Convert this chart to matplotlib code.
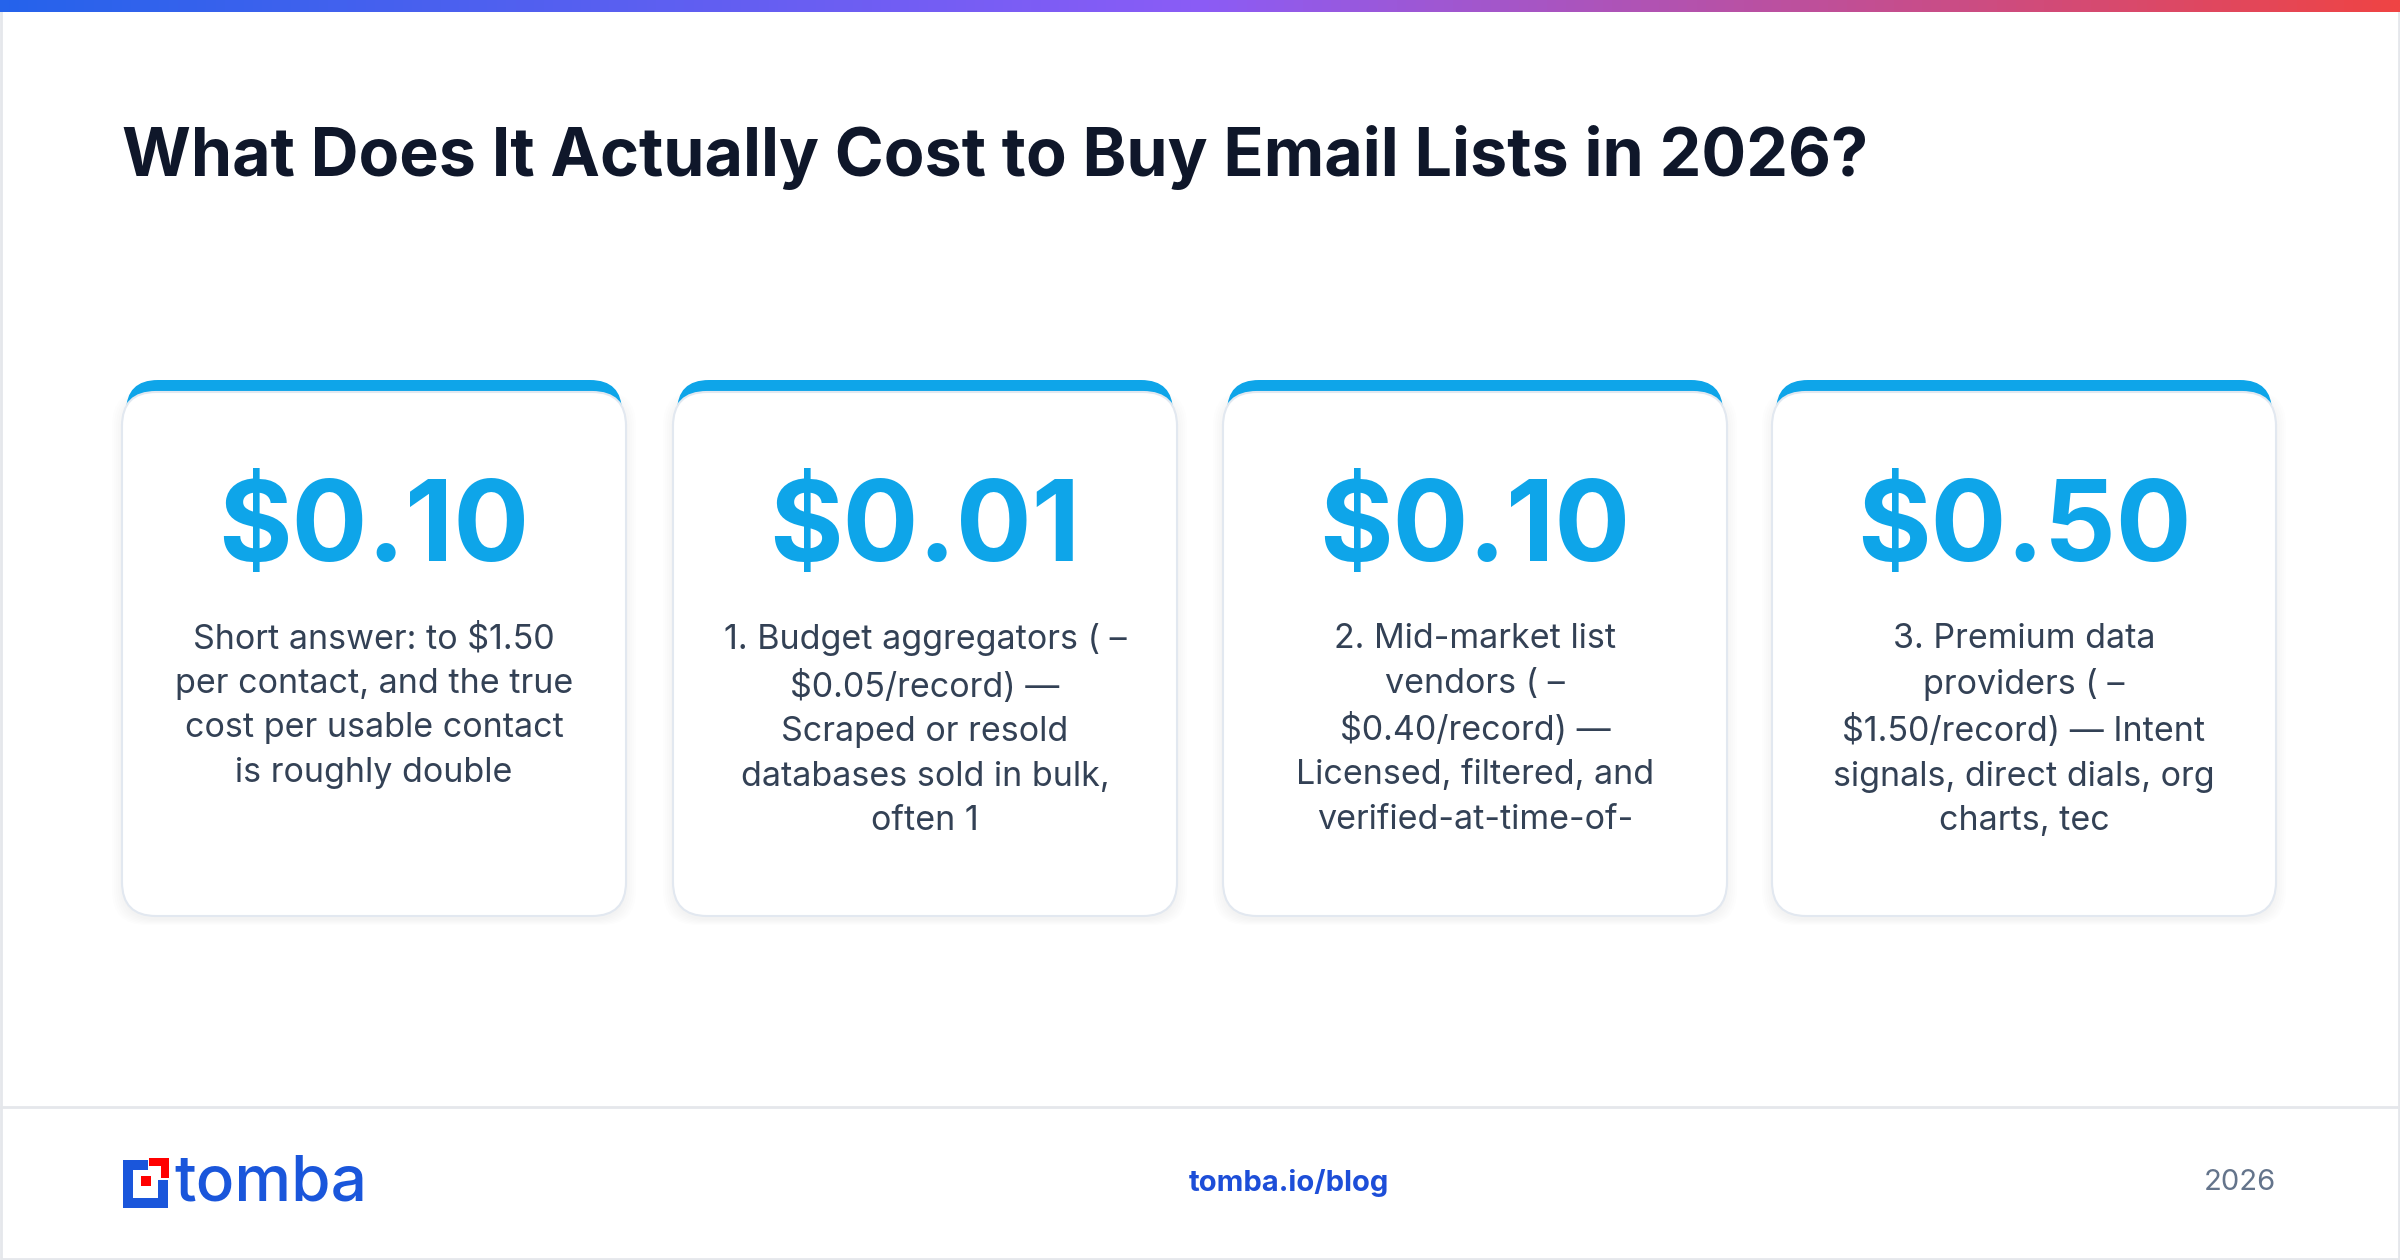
import matplotlib.pyplot as plt
import numpy as np
from matplotlib.patches import FancyBboxPatch, Rectangle
from matplotlib.colors import LinearSegmentedColormap

plt.rcParams['font.family'] = ['Inter', 'DejaVu Sans']

title = "What Does It Actually Cost to Buy Email Lists in 2026?"
prices = ["$0.10", "$0.01", "$0.10", "$0.50"]
descs = [
    "Short answer: to $1.50\nper contact, and the true\ncost per usable contact\nis roughly double",
    "1. Budget aggregators ( –\n$0.05/record) —\nScraped or resold\ndatabases sold in bulk,\noften 1",
    "2. Mid-market list\nvendors ( –\n$0.40/record) —\nLicensed, filtered, and\nverified-at-time-of-",
    "3. Premium data\nproviders ( –\n$1.50/record) — Intent\nsignals, direct dials, org\ncharts, tec",
]
footer_url = "tomba.io/blog"
footer_year = "2026"

W, H = 2400, 1260
fig = plt.figure(figsize=(24, 12.6), dpi=100)
ax = fig.add_axes([0, 0, 1, 1])
ax.set_xlim(0, W)
ax.set_ylim(H, 0)
ax.axis('off')

# outer frame
ax.add_patch(Rectangle((1, 1), W - 2, H - 2, fill=False, ec='#e5e7eb', lw=2))

# top gradient bar
grad = np.linspace(0, 1, 256).reshape(1, -1)
cmap = LinearSegmentedColormap.from_list('g', ['#2563eb', '#8b5cf6', '#ef4444'])
ax.imshow(grad, extent=(0, W, 12, 0), aspect='auto', cmap=cmap, zorder=5)

ax.text(122, 157, title, fontsize=47.8, fontweight='bold', color='#0f172a', va='center', ha='left')

card_x = [122, 673, 1223, 1772]
card_w = 504
top, bottom = 392, 916
for i, x in enumerate(card_x):
    # shadow
    for k in range(6):
        ax.add_patch(FancyBboxPatch((x - k * 2, top - k + 4), card_w + k * 4, bottom - top + k * 2,
                                    boxstyle="round,pad=0,rounding_size=34", fc='#0f172a',
                                    alpha=0.008, ec='none', zorder=1))
    ax.add_patch(FancyBboxPatch((x + 4, top - 12), card_w - 8, 120,
                                boxstyle="round,pad=0,rounding_size=32", fc='#0ea5e9', ec='none', zorder=2))
    ax.add_patch(FancyBboxPatch((x, top), card_w, bottom - top,
                                boxstyle="round,pad=0,rounding_size=34", fc='white', ec='#e2e8f0',
                                lw=1.5, zorder=3))
    cx = x + card_w / 2
    ax.text(cx, 532, prices[i], fontsize=81, fontweight='bold', color='#0ea5e9',
            ha='center', va='center', zorder=4)
    ax.text(cx, 623, descs[i], fontsize=24.5, color='#334155', ha='center', va='top',
            linespacing=1.5, zorder=4)

# footer
ax.plot([0, W], [1107, 1107], color='#e5e7eb', lw=2)
blue, red = '#1a56db', '#ff0000'
# logo icon
ax.add_patch(Rectangle((123, 1160), 10, 48, fc=blue, ec='none'))
ax.add_patch(Rectangle((123, 1198), 45, 10, fc=blue, ec='none'))
ax.add_patch(Rectangle((123, 1160), 25, 10, fc=blue, ec='none'))
ax.add_patch(Rectangle((158, 1180), 10, 28, fc=blue, ec='none'))
ax.add_patch(Rectangle((149, 1158), 20, 8, fc=red, ec='none'))
ax.add_patch(Rectangle((161, 1158), 8, 20, fc=red, ec='none'))
ax.add_patch(Rectangle((141, 1176), 10, 10, fc=red, ec='none'))
ax.text(174, 1184, "tomba", fontsize=46, fontweight='medium', color=blue, ha='left', va='center')
ax.text(1289, 1183, footer_url, fontsize=21, fontweight='bold', color='#1d4ed8', ha='center', va='center')
ax.text(2276, 1183, footer_year, fontsize=21, color='#64748b', ha='right', va='center')

fig.savefig('out.png', dpi=100, facecolor='white')
